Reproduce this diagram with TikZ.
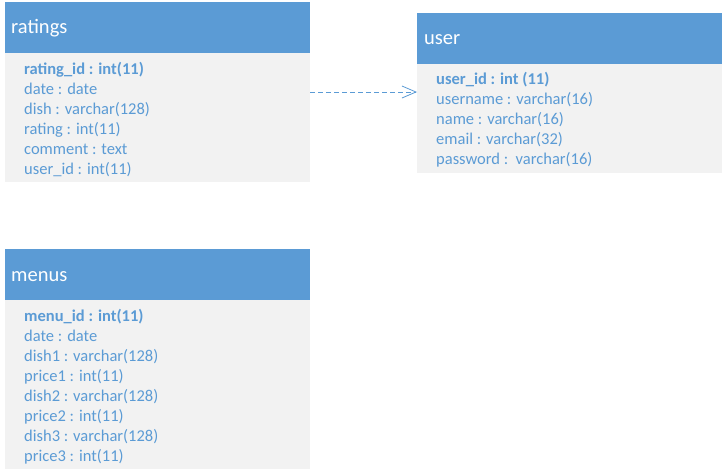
\documentclass[tikz,border=0pt]{standalone}
\usepackage{fontspec}
\setmainfont{Carlito}
\usetikzlibrary{arrows.meta}
\definecolor{hdr}{HTML}{5B9BD5}
\definecolor{bdy}{HTML}{F2F2F2}
\definecolor{txt}{HTML}{5B9BD5}
\tikzset{
  hdrbox/.style={fill=hdr,draw=none,anchor=north west,minimum width=305pt,minimum height=51pt,inner sep=0pt},
  bdybox/.style={fill=bdy,draw=none,anchor=north west,minimum width=305pt,inner sep=0pt},
  title/.style={anchor=base west,text=white,font=\fontsize{20.5}{22}\selectfont,inner sep=0pt},
  field/.style={anchor=base west,text=txt,font=\fontsize{16.5}{18}\selectfont,inner sep=0pt},
  keyfield/.style={field,font=\fontsize{16.5}{18}\selectfont\bfseries},
  link/.style={draw=txt,dashed,dash pattern=on 5pt off 3pt,line width=0.8pt,-{Straight Barb[length=14pt,width=12pt,line width=0.8pt]}}
}
\begin{document}
\begin{tikzpicture}[x=1pt,y=-1pt]
\useasboundingbox[fill=white] (0,0) rectangle (724,474);
% ratings
\node[hdrbox] (rh) at (5,2) {};
\node[bdybox,minimum height=129pt] (rb) at (5,53) {};
\node[title] (rt) at (11,33) {ratings};
\node[keyfield] (r1) at (24,74) {rating\_id : int(11)};
\node[field] (r2) at (24,94) {date : date};
\node[field] (r3) at (24,114) {dish : varchar(128)};
\node[field] (r4) at (24,134) {rating : int(11)};
\node[field] (r5) at (24,154) {comment : text};
\node[field] (r6) at (24,174) {user\_id : int(11)};
% user
\node[hdrbox] (uh) at (417,13) {};
\node[bdybox,minimum height=109pt] (ub) at (417,64) {};
\node[title] (ut) at (424,44) {user};
\node[keyfield] (u1) at (436,84) {user\_id : int (11)};
\node[field] (u2) at (436,104) {username : varchar(16)};
\node[field] (u3) at (436,124) {name : varchar(16)};
\node[field] (u4) at (436,144) {email : varchar(32)};
\node[field] (u5) at (436,164) {password :\ \ varchar(16)};
% menus
\node[hdrbox] (mh) at (5,249) {};
\node[bdybox,minimum height=169pt] (mb) at (5,300) {};
\node[title] (mt) at (11,281) {menus};
\node[keyfield] (m1) at (24,321) {menu\_id : int(11)};
\node[field] (m2) at (24,341) {date : date};
\node[field] (m3) at (24,361) {dish1 : varchar(128)};
\node[field] (m4) at (24,381) {price1 : int(11)};
\node[field] (m5) at (24,401) {dish2 : varchar(128)};
\node[field] (m6) at (24,421) {price2 : int(11)};
\node[field] (m7) at (24,441) {dish3 : varchar(128)};
\node[field] (m8) at (24,461) {price3 : int(11)};
% link
\coordinate (a1) at (rb.east |- 0,92);
\coordinate (a2) at (ub.west |- 0,92);
\draw[link] (a1) -- (a2);
\end{tikzpicture}
\end{document}
